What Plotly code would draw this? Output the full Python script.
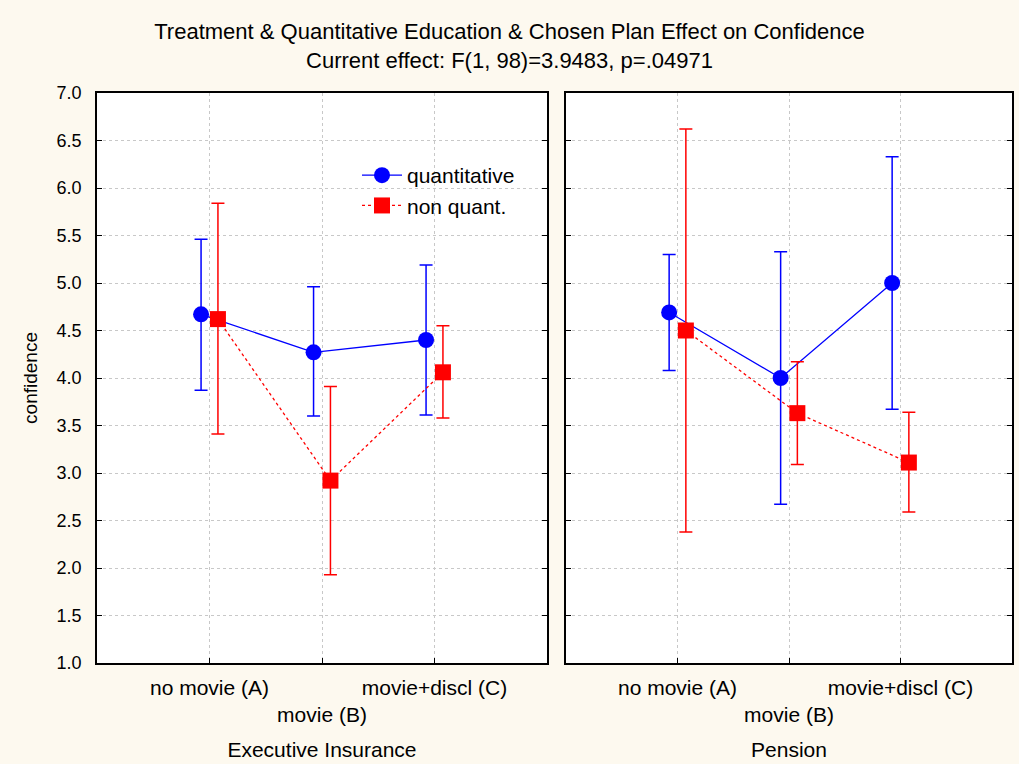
import plotly.graph_objects as go

categories = ["no movie (A)", "movie (B)", "movie+discl (C)"]
cat_pos = [1, 2, 3]
tick_text = ["no movie (A)", "<br>movie (B)", "movie+discl (C)"]
panels = ["Executive Insurance", "Pension"]

# Executive Insurance
ei_quant_mean = [4.67, 4.27, 4.40]
ei_quant_lo = [3.87, 3.60, 3.61]
ei_quant_hi = [5.46, 4.96, 5.19]
ei_non_mean = [4.62, 2.92, 4.06]
ei_non_lo = [3.41, 1.93, 3.58]
ei_non_hi = [5.84, 3.91, 4.55]

# Pension
pe_quant_mean = [4.69, 4.00, 5.00]
pe_quant_lo = [4.08, 2.67, 3.67]
pe_quant_hi = [5.30, 5.33, 6.33]
pe_non_mean = [4.50, 3.63, 3.11]
pe_non_lo = [2.38, 3.09, 2.59]
pe_non_hi = [6.62, 4.17, 3.64]

BLUE = "#0000FF"
RED = "#FF0000"
BG = "#FDF9EF"
FONT = "Liberation Sans, Arial, sans-serif"
TXT = 21
OFF = 0.075

fig = go.Figure()


def add_series(mean, lo, hi, xa, ya, name, color, symbol, dash, shift, showleg):
    xs = [p + shift for p in cat_pos]
    fig.add_trace(go.Scatter(
        x=xs, y=mean, xaxis=xa, yaxis=ya, name=name, showlegend=showleg,
        mode="lines+markers",
        line=dict(color=color, width=1.3, dash=dash),
        marker=dict(color=color, size=16, symbol=symbol, line=dict(width=0)),
        error_y=dict(type="data", symmetric=False,
                     array=[h - m for h, m in zip(hi, mean)],
                     arrayminus=[m - l for m, l in zip(mean, lo)],
                     color=color, thickness=1.5, width=6.5),
    ))


add_series(ei_quant_mean, ei_quant_lo, ei_quant_hi, "x", "y", "quantitative", BLUE, "circle", "solid", -OFF, True)
add_series(ei_non_mean, ei_non_lo, ei_non_hi, "x", "y", "non quant.", RED, "square", "dot", OFF, True)
add_series(pe_quant_mean, pe_quant_lo, pe_quant_hi, "x2", "y2", "quantitative", BLUE, "circle", "solid", -OFF, False)
add_series(pe_non_mean, pe_non_lo, pe_non_hi, "x2", "y2", "non quant.", RED, "square", "dot", OFF, False)

W, H = 1019, 764
L, R, T, B = 97, 1012, 93, 663
pw = R - L
d1 = [0, (547 - L) / pw]
d2 = [(566 - L) / pw, 1]

xcommon = dict(range=[0, 4], tickvals=cat_pos, ticktext=tick_text, tickangle=0,
               automargin=False,
               showgrid=True, gridcolor="#C8C8C8", griddash="dot", gridwidth=1,
               showline=True, linecolor="black", linewidth=1.5, mirror=True,
               ticks="inside", ticklen=5, tickcolor="black", zeroline=False,
               ticklabelstandoff=5,
               tickfont=dict(size=TXT, color="black", family=FONT),
               title=dict(font=dict(size=TXT, color="black", family=FONT), standoff=17))
ycommon = dict(range=[1, 7], dtick=0.5, tickformat=".1f", automargin=False,
               showgrid=True, gridcolor="#C8C8C8", griddash="dot", gridwidth=1,
               showline=True, linecolor="black", linewidth=1.5, mirror="ticks",
               ticks="inside", ticklen=5, tickcolor="black", zeroline=False,
               tickfont=dict(size=18, color="black", family=FONT))

fig.update_layout(
    width=W, height=H,
    paper_bgcolor=BG, plot_bgcolor="white",
    margin=dict(l=L, r=W - R, t=T, b=H - B),
    font=dict(family=FONT, size=TXT, color="black"),
    title=dict(text="Treatment & Quantitative Education & Chosen Plan Effect on Confidence<br>Current effect: F(1, 98)=3.9483, p=.04971",
               x=0.5, xanchor="center", y=1 - 39 / H, yanchor="middle",
               font=dict(size=22, color="black", family=FONT)),
    xaxis=dict(domain=d1, anchor="y", **xcommon),
    xaxis2=dict(domain=d2, anchor="y2", **xcommon),
    yaxis=dict(domain=[0, 1], anchor="x", ticklabelstandoff=10,
               title=dict(text="confidence", font=dict(size=19, color="black", family=FONT), standoff=14),
               **ycommon),
    yaxis2=dict(domain=[0, 1], anchor="x2", showticklabels=False, **ycommon),
    legend=dict(x=(357 - L) / pw, y=1 - (155 - T) / (B - T), xanchor="left", yanchor="top",
                bgcolor="rgba(0,0,0,0)", font=dict(size=TXT, color="black", family=FONT),
                tracegroupgap=0, itemwidth=40),
)
fig.layout.xaxis.title.text = panels[0]
fig.layout.xaxis2.title.text = panels[1]

fig.write_html("out.html", config={"displayModeBar": False},
               post_script="document.body.style.margin='0';document.body.style.padding='0';")
